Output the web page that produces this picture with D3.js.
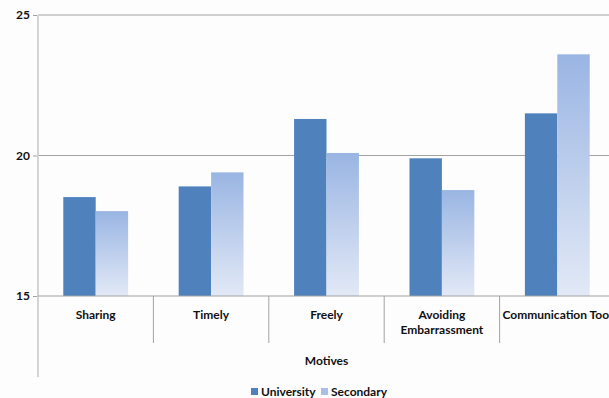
<!DOCTYPE html>
<html>
<head>
<meta charset="utf-8">
<script src="https://cdn.jsdelivr.net/npm/d3@7"></script>
<style>
body { margin: 0; background: #fdfdfd; }
svg { display: block; font-family: Lato, "Open Sans", sans-serif; font-weight: bold; }
</style>
</head>
<body>
<div id="chart"></div>
<script>
// data
const categories = ['Sharing', 'Timely', 'Freely', 'Avoiding Embarrassment', 'Communication Tool'];
const university = [18.52, 18.9, 21.3, 19.9, 21.5];
const secondary = [18.02, 19.4, 20.09, 18.77, 23.6];
const seriesNames = ['University', 'Secondary'];
const yTicks = [15, 20, 25];

const width = 609, height = 398;
const plotLeft = 38, plotRight = 615, plotTop = 15, plotBottom = 296;
const fontSize = '12px';

const svg = d3.select('#chart').append('svg')
	.attr('width', width)
	.attr('height', height);

const defs = svg.append('defs');
const grad = defs.append('linearGradient')
	.attr('id', 'secGrad')
	.attr('x1', 0).attr('y1', 0).attr('x2', 0).attr('y2', 1);
grad.append('stop').attr('offset', '0%').attr('stop-color', '#9ab5e3');
grad.append('stop').attr('offset', '100%').attr('stop-color', '#e2e9f6');

const y = d3.scaleLinear().domain([15, 25]).range([plotBottom, plotTop]);
const x = d3.scaleBand().domain(categories).range([plotLeft, plotRight]).paddingInner(0).paddingOuter(0);
const inner = d3.scaleBand().domain(seriesNames).range([0, x.bandwidth()]).paddingInner(0).paddingOuter(0.78);

// gridlines
svg.append('g')
	.selectAll('line')
	.data(yTicks.filter(t => t > 15))
	.join('line')
	.attr('x1', plotLeft).attr('x2', plotRight)
	.attr('y1', d => y(d)).attr('y2', d => y(d))
	.style('stroke', '#a3a3a3')
	.style('stroke-width', '1px');

// y axis
const yAxis = svg.append('g')
	.attr('transform', 'translate(' + plotLeft + ',0)')
	.call(d3.axisLeft(y).tickValues(yTicks).tickSize(5).tickPadding(3));
yAxis.select('.domain').remove();
yAxis.selectAll('line').style('stroke', '#a3a3a3');
yAxis.selectAll('text')
	.style('font-size', fontSize)
	.style('font-family', 'Lato, sans-serif')
	.style('font-weight', 'bold')
	.style('fill', '#111');

// bars
const groups = svg.append('g')
	.selectAll('g')
	.data(categories)
	.join('g')
	.attr('transform', d => 'translate(' + x(d) + ',0)');

groups.append('rect')
	.attr('x', inner('University'))
	.attr('width', inner.bandwidth())
	.attr('y', (d, i) => y(university[i]))
	.attr('height', (d, i) => y(15) - y(university[i]))
	.style('fill', '#4f81bd');

groups.append('rect')
	.attr('x', inner('Secondary'))
	.attr('width', inner.bandwidth())
	.attr('y', (d, i) => y(secondary[i]))
	.attr('height', (d, i) => y(15) - y(secondary[i]))
	.style('fill', 'url(#secGrad)');

// vertical axis line, runs down through the category area
svg.append('line')
	.attr('x1', plotLeft).attr('x2', plotLeft)
	.attr('y1', plotTop).attr('y2', 377)
	.style('stroke', '#d4d4d4')
	.style('stroke-width', '2px');

// x axis line
svg.append('line')
	.attr('x1', plotLeft).attr('x2', plotRight)
	.attr('y1', plotBottom).attr('y2', plotBottom)
	.style('stroke', '#a3a3a3')
	.style('stroke-width', '1px');

// category dividers
svg.append('g')
	.selectAll('line')
	.data(categories.slice(1))
	.join('line')
	.attr('x1', d => x(d)).attr('x2', d => x(d))
	.attr('y1', plotBottom).attr('y2', 343)
	.style('stroke', '#a3a3a3')
	.style('stroke-width', '1px');

// category labels
const labelLines = {
	'Avoiding Embarrassment': ['Avoiding', 'Embarrassment']
};
svg.append('g')
	.selectAll('text')
	.data(categories)
	.join('text')
	.attr('x', d => x(d) + x.bandwidth() / 2)
	.attr('y', 319)
	.attr('text-anchor', 'middle')
	.style('font-size', fontSize)
	.style('fill', '#111')
	.each(function(d) {
		const lines = labelLines[d] || [d];
		d3.select(this).selectAll('tspan')
			.data(lines)
			.join('tspan')
			.attr('x', x(d) + x.bandwidth() / 2)
			.attr('dy', (l, i) => i === 0 ? 0 : 15)
			.text(l => l);
	});

// axis title
svg.append('text')
	.attr('x', (plotLeft + plotRight) / 2)
	.attr('y', 365)
	.attr('text-anchor', 'middle')
	.style('font-size', fontSize)
	.style('fill', '#111')
	.text('Motives');

// legend
const legendX = [251, 321];
const legendFill = ['#4f81bd', '#a8bfe7'];
const legend = svg.append('g')
	.selectAll('g')
	.data(seriesNames)
	.join('g')
	.attr('transform', (d, i) => 'translate(' + legendX[i] + ',388)');
legend.append('rect')
	.attr('width', 7).attr('height', 7)
	.style('fill', (d, i) => legendFill[i]);
legend.append('text')
	.attr('x', 10).attr('y', 8)
	.style('font-size', fontSize)
	.style('fill', '#111')
	.text(d => d);
</script>
</body>
</html>
